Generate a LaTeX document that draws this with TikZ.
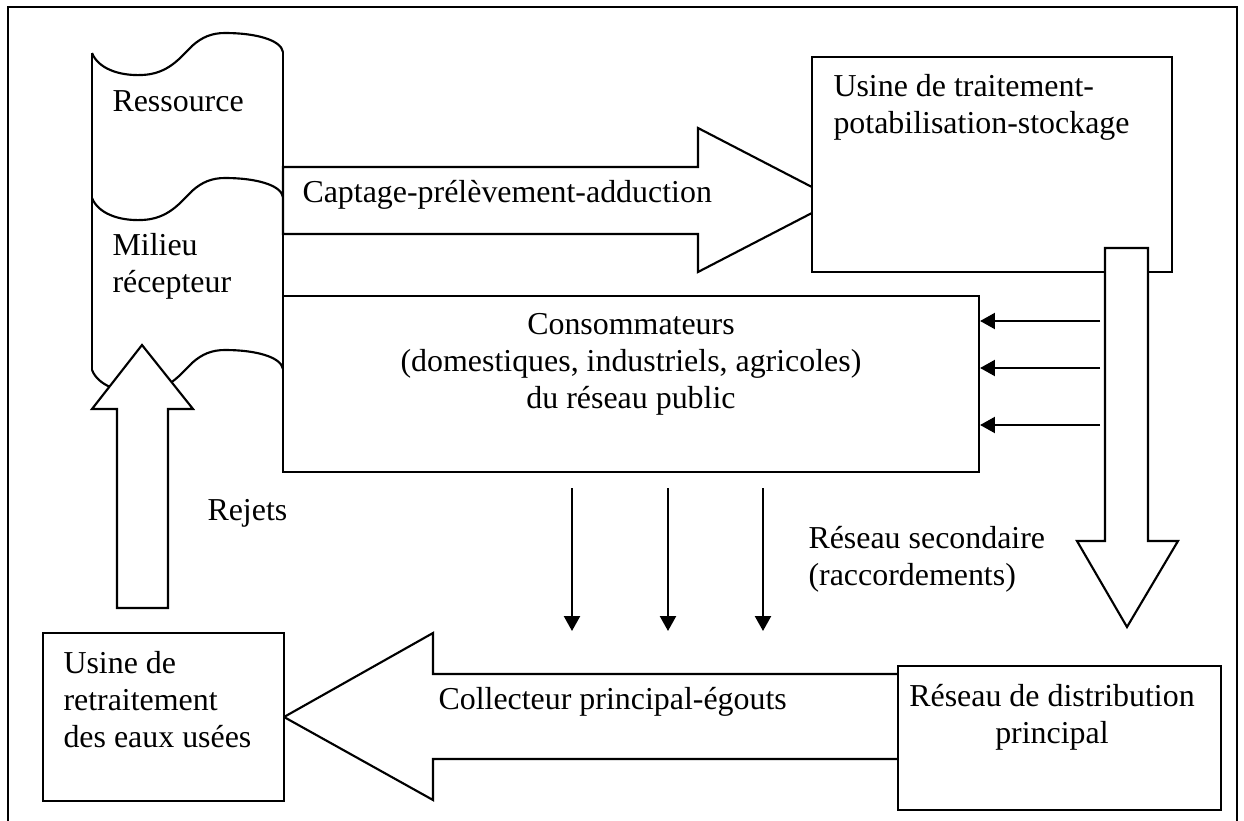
\documentclass[tikz,border=0pt]{standalone}
\usepackage{fontspec}
\setmainfont{Liberation Serif}
\usepackage{tikz}
\usetikzlibrary{arrows.meta,positioning,fit,calc}
\tikzset{
  schemabox/.style={
    draw,
    fill=white,
    inner sep=0pt,
    line width=0.8pt
  },
  schemalabel/.style={
    inner sep=0pt,
    align=left,
    anchor=base west,
    font=\fontsize{12}{13.9}\selectfont
  },
  schemablock/.style={
    draw,
    fill=white,
    line width=0.8pt,
    line join=miter
  },
  schemaarrow/.style={
    -{Triangle[length=5.6pt,width=6pt]},
    line width=0.8pt
  },
  schemawave/.style={
    line width=0.8pt
  }
}

\begin{document}
\begin{tikzpicture}[x=0.376pt,y=-0.376pt]
    \useasboundingbox (0,0) rectangle (1244,821);
    \draw[line width=0.6pt] (8,821) |- (1237,7) -- (1237,821);

    % ressource / milieu recepteur
    \foreach \dy in {0,145,317} {
      \draw[schemawave, shift={(0,\dy)}] (92,53) .. controls (98,68) and (118,76) .. (142,75)
        .. controls (168,74) and (180,58) .. (192,46)
        .. controls (202,37) and (212,33) .. (225,33)
        .. controls (256,33) and (281,40) .. (283,52);
    }
    \draw[schemawave] (92,53) -- (92,370);
    \draw[schemawave] (283,52) -- (283,369);
    \node[schemalabel] (res) at (112,111) {Ressource};
    \node[schemalabel] (mil) at (112,292) {Milieu\\récepteur};

    % captage
    \draw[schemablock] (283,167) -- (698,167) -- (698,128) -- (837,200) -- (698,272) -- (698,234) -- (283,234) -- cycle;
    \node[schemalabel] (capt) at (302,202) {Captage-prélèvement-adduction};

    \node[schemabox, fit={(812,57) (1172,272)}] (usine) {};
    \node[schemalabel] at (833,133) {Usine de traitement-\\potabilisation-stockage};

    \node[schemabox, fit={(283,296) (979,472)}] (conso) {};
    \node[schemalabel, align=center, anchor=base] at (631,408) {Consommateurs\\(domestiques, industriels, agricoles)\\du réseau public};

    % reseau secondaire
    \draw[schemablock] (1105,248) -- (1148,248) -- (1148,541) -- (1178,541) -- (1127,627) -- (1077,541) -- (1105,541) -- cycle;
    \foreach \yy in {321,368,425}
      \draw[schemaarrow] (1100,\yy) -- (conso.east |- 0,\yy);
    \node[schemalabel] (sec) at (808,585) {Réseau secondaire\\(raccordements)};

    \foreach \xx in {572,668,763}
      \draw[schemaarrow] (\xx,488) -- (\xx,631);

    % collecteur
    \draw[schemablock] (900,674) -- (433,674) -- (433,633) -- (284,717) -- (433,800) -- (433,759) -- (900,759);
    \node[schemalabel] (coll) at (438,709) {Collecteur principal-égouts};

    \node[schemabox, fit={(898,666) (1221,810)}] (distrib) {};
    \node[schemalabel, align=center, anchor=base] at (1052,743) {Réseau de distribution\\principal};

    \node[schemabox, fit={(43,633) (284,801)}] (retrait) {};
    \node[schemalabel] at (63,747) {Usine de\\retraitement\\des eaux usées};

    % rejets
    \draw[schemablock] (117,608) -- (117,409) -- (92,409) -- (142,345) -- (193,409) -- (168,409) -- (168,608) -- cycle;
    \node[schemalabel] (rej) at (207,520) {Rejets};
  \end{tikzpicture}
\end{document}
